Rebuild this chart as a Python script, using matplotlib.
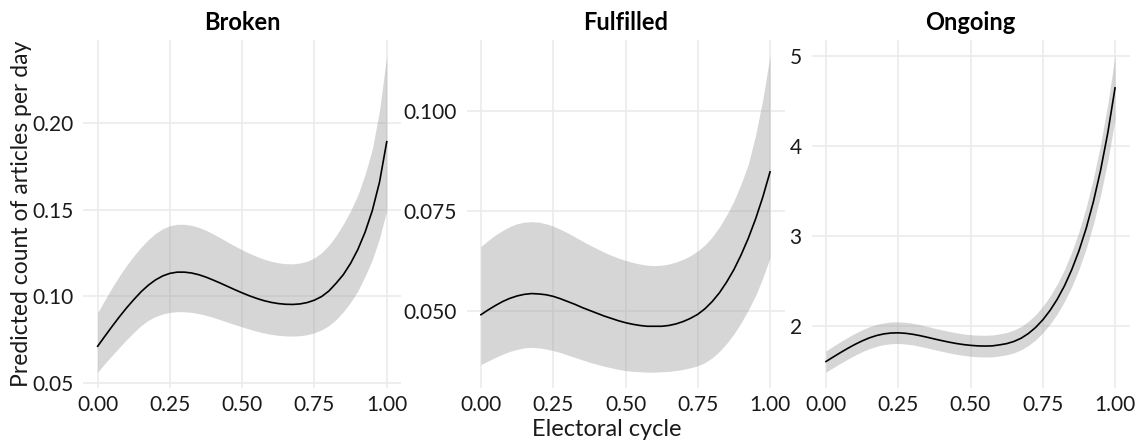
import matplotlib
matplotlib.use("Agg")
import matplotlib.pyplot as plt
import numpy as np

plt.rcParams["font.family"] = ["Lato", "DejaVu Sans"]

# Electoral cycle positions at which predictions are reported (steps of 0.025)
cycle = [0.000, 0.025, 0.050, 0.075, 0.100, 0.125, 0.150, 0.175, 0.200, 0.225,
         0.250, 0.275, 0.300, 0.325, 0.350, 0.375, 0.400, 0.425, 0.450, 0.475,
         0.500, 0.525, 0.550, 0.575, 0.600, 0.625, 0.650, 0.675, 0.700, 0.725,
         0.750, 0.775, 0.800, 0.825, 0.850, 0.875, 0.900, 0.925, 0.950, 0.975,
         1.000]

panel_titles = ["Broken", "Fulfilled", "Ongoing"]

# Predicted count of articles per day, with lower / upper confidence limits
broken_fit = [0.0710, 0.0768, 0.0825, 0.0880, 0.0932, 0.0980, 0.1025, 0.1063,
              0.1094, 0.1117, 0.1132, 0.1139, 0.1139, 0.1134, 0.1124, 0.1110,
              0.1093, 0.1075, 0.1056, 0.1037, 0.1019, 0.1002, 0.0987, 0.0974,
              0.0964, 0.0957, 0.0953, 0.0952, 0.0955, 0.0963, 0.0977, 0.0998,
              0.1030, 0.1075, 0.1125, 0.1190, 0.1270, 0.1370, 0.1495, 0.1660,
              0.1894]
broken_lo = [0.0560, 0.0610, 0.0657, 0.0703, 0.0748, 0.0790, 0.0829, 0.0860,
             0.0882, 0.0897, 0.0906, 0.0910, 0.0910, 0.0906, 0.0899, 0.0889,
             0.0877, 0.0863, 0.0849, 0.0835, 0.0822, 0.0809, 0.0797, 0.0787,
             0.0779, 0.0773, 0.0770, 0.0769, 0.0771, 0.0777, 0.0788, 0.0805,
             0.0830, 0.0865, 0.0910, 0.0965, 0.1030, 0.1115, 0.1210, 0.1335,
             0.1495]
broken_hi = [0.0904, 0.0978, 0.1050, 0.1117, 0.1178, 0.1233, 0.1283, 0.1327,
             0.1363, 0.1390, 0.1408, 0.1416, 0.1416, 0.1410, 0.1398, 0.1381,
             0.1360, 0.1337, 0.1313, 0.1290, 0.1268, 0.1248, 0.1230, 0.1214,
             0.1202, 0.1193, 0.1188, 0.1187, 0.1192, 0.1202, 0.1222, 0.1252,
             0.1295, 0.1350, 0.1418, 0.1495, 0.1585, 0.1705, 0.1850, 0.2075,
             0.2394]

fulfilled_fit = [0.0490, 0.0502, 0.0513, 0.0523, 0.0531, 0.0537, 0.0541, 0.0543,
                 0.0542, 0.0540, 0.0536, 0.0530, 0.0523, 0.0516, 0.0508, 0.0501,
                 0.0494, 0.0487, 0.0481, 0.0475, 0.0470, 0.0466, 0.0463, 0.0461,
                 0.0461, 0.0461, 0.0463, 0.0467, 0.0473, 0.0481, 0.0491, 0.0505,
                 0.0523, 0.0545, 0.0572, 0.0603, 0.0640, 0.0682, 0.0730, 0.0785,
                 0.0848]
fulfilled_lo = [0.0365, 0.0374, 0.0383, 0.0391, 0.0398, 0.0403, 0.0407, 0.0408,
                0.0407, 0.0404, 0.0400, 0.0395, 0.0389, 0.0383, 0.0377, 0.0371,
                0.0366, 0.0361, 0.0357, 0.0353, 0.0350, 0.0348, 0.0347, 0.0346,
                0.0346, 0.0347, 0.0348, 0.0350, 0.0353, 0.0357, 0.0362, 0.0370,
                0.0382, 0.0398, 0.0418, 0.0442, 0.0470, 0.0502, 0.0538, 0.0582,
                0.0633]
fulfilled_hi = [0.0661, 0.0676, 0.0690, 0.0701, 0.0711, 0.0718, 0.0722, 0.0723,
                0.0722, 0.0718, 0.0712, 0.0704, 0.0695, 0.0685, 0.0675, 0.0665,
                0.0656, 0.0647, 0.0639, 0.0632, 0.0626, 0.0621, 0.0617, 0.0614,
                0.0613, 0.0614, 0.0617, 0.0622, 0.0629, 0.0638, 0.0650, 0.0665,
                0.0685, 0.0710, 0.0740, 0.0775, 0.0818, 0.0868, 0.0940, 0.1030,
                0.1140]

ongoing_fit = [1.607, 1.657, 1.706, 1.753, 1.797, 1.836, 1.870, 1.896, 1.914,
               1.924, 1.926, 1.921, 1.910, 1.895, 1.877, 1.858, 1.840, 1.823,
               1.808, 1.796, 1.787, 1.781, 1.779, 1.781, 1.792, 1.806, 1.830,
               1.866, 1.918, 1.985, 2.070, 2.174, 2.299, 2.448, 2.626, 2.836,
               3.086, 3.382, 3.733, 4.150, 4.648]
ongoing_lo = [1.489, 1.539, 1.587, 1.633, 1.677, 1.716, 1.750, 1.776, 1.795,
              1.805, 1.808, 1.802, 1.792, 1.776, 1.758, 1.739, 1.721, 1.704,
              1.688, 1.676, 1.666, 1.660, 1.658, 1.659, 1.669, 1.682, 1.704,
              1.737, 1.785, 1.847, 1.926, 2.022, 2.137, 2.274, 2.437, 2.630,
              2.860, 3.133, 3.456, 3.840, 4.299]
ongoing_hi = [1.725, 1.777, 1.827, 1.875, 1.920, 1.959, 1.994, 2.019, 2.036,
              2.047, 2.048, 2.043, 2.032, 2.017, 1.998, 1.978, 1.960, 1.942,
              1.927, 1.914, 1.905, 1.900, 1.899, 1.902, 1.914, 1.930, 1.957,
              1.996, 2.053, 2.127, 2.220, 2.333, 2.468, 2.629, 2.822, 3.049,
              3.320, 3.640, 4.020, 4.471, 5.010]

x_ticks = [0.00, 0.25, 0.50, 0.75, 1.00]
x_ticklabels = ["0.00", "0.25", "0.50", "0.75", "1.00"]
y_ticks = [[0.05, 0.10, 0.15, 0.20],
           [0.050, 0.075, 0.100],
           [2, 3, 4, 5]]
y_ticklabels = [["0.05", "0.10", "0.15", "0.20"],
                ["0.050", "0.075", "0.100"],
                ["2", "3", "4", "5"]]

series = [(broken_fit, broken_lo, broken_hi),
          (fulfilled_fit, fulfilled_lo, fulfilled_hi),
          (ongoing_fit, ongoing_lo, ongoing_hi)]

W, H = 1142, 441
fig = plt.figure(figsize=(W / 100, H / 100), dpi=100)
fig.patch.set_facecolor("white")

# panel extents in pixels (left edge, width), shared top/bottom
lefts = [83.2, 466.5, 811.5]
pw = 318.0
top_px, bot_px = 39.5, 388.0

TXT = "#1a1a1a"
GRID = "#ebebeb"

for i, (left, title) in enumerate(zip(lefts, panel_titles)):
    ax = fig.add_axes([left / W, 1 - bot_px / H, pw / W, (bot_px - top_px) / H])
    fit, lo, hi = series[i]
    x = np.asarray(cycle)
    ax.fill_between(x, lo, hi, color="#999999", alpha=0.4, linewidth=0, zorder=2)
    ax.plot(x, fit, color="black", lw=1.2, zorder=3, solid_joinstyle="round")

    ymin, ymax = min(lo), max(hi)
    pad = 0.05 * (ymax - ymin)
    ax.set_ylim(ymin - pad, ymax + pad)
    ax.set_xlim(-0.05, 1.05)

    ax.set_xticks(x_ticks)
    ax.set_xticklabels(x_ticklabels)
    ax.set_yticks(y_ticks[i])
    ax.set_yticklabels(y_ticklabels[i])
    ax.tick_params(length=0, labelsize=15, colors=TXT)
    ax.tick_params(axis="y", pad=7)
    ax.tick_params(axis="x", pad=5)
    ax.grid(True, color=GRID, lw=1.2, zorder=0)
    ax.set_axisbelow(True)
    for s in ax.spines.values():
        s.set_visible(False)
    ax.set_title(title, fontsize=17, fontweight="bold", color="black", pad=7)

fig.text((lefts[0] + lefts[2] + pw) / 2 / W, 1 - 429 / H, "Electoral cycle",
         ha="center", va="center", fontsize=17, color=TXT)
fig.text(22 / W, 1 - (top_px + bot_px) / 2 / H, "Predicted count of articles per day",
         ha="center", va="center", rotation=90, fontsize=16.5, color=TXT)

fig.savefig("out.png", dpi=100, facecolor="white")
